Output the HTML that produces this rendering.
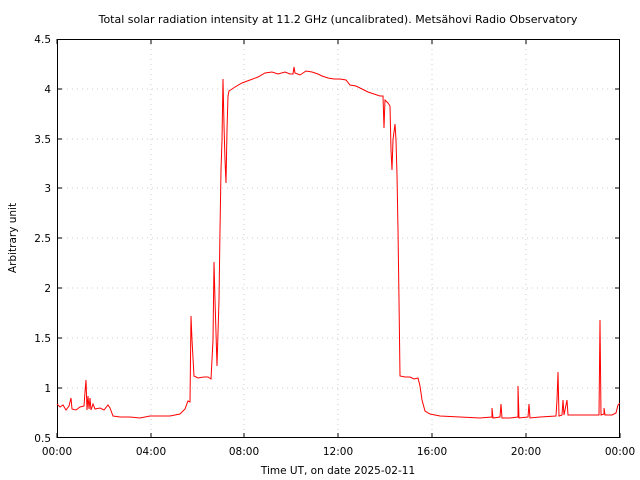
<!DOCTYPE html>
<html><head><style>body{margin:0;background:#fff}svg{display:block}text{font-family:"DejaVu Sans","Liberation Sans",sans-serif;font-size:10.5px;fill:#000}</style></head><body>
<svg width="640" height="480" viewBox="0 0 640 480">
<g stroke="#ccc" stroke-dasharray="1,4" stroke-width="1">
<line x1="151" y1="39" x2="151" y2="438"/><line x1="244" y1="39" x2="244" y2="438"/><line x1="338" y1="39" x2="338" y2="438"/><line x1="432" y1="39" x2="432" y2="438"/><line x1="526" y1="39" x2="526" y2="438"/>
<line x1="57" y1="388" x2="620" y2="388"/><line x1="57" y1="338" x2="620" y2="338"/><line x1="57" y1="288" x2="620" y2="288"/><line x1="57" y1="238" x2="620" y2="238"/><line x1="57" y1="188" x2="620" y2="188"/><line x1="57" y1="139" x2="620" y2="139"/><line x1="57" y1="89" x2="620" y2="89"/>
</g>
<rect x="57.5" y="39.5" width="562" height="398" fill="none" stroke="#000"/>
<g stroke="#000">
<path d="M57 438v-5M151 438v-5M244 438v-5M338 438v-5M432 438v-5M526 438v-5M620 438v-5M57 39v5M151 39v5M244 39v5M338 39v5M432 39v5M526 39v5M57 388h5M57 338h5M57 288h5M57 238h5M57 188h5M57 139h5M57 89h5M620 388h-5M620 338h-5M620 288h-5M620 238h-5M620 188h-5M620 139h-5M620 89h-5"/>
</g>
<g text-anchor="end"><text x="51" y="442">0.5</text><text x="51" y="392">1</text><text x="51" y="342">1.5</text><text x="51" y="292">2</text><text x="51" y="242">2.5</text><text x="51" y="192">3</text><text x="51" y="143">3.5</text><text x="51" y="93">4</text><text x="51" y="43">4.5</text></g>
<g text-anchor="middle"><text x="57" y="455">00:00</text><text x="151" y="455">04:00</text><text x="244" y="455">08:00</text><text x="338" y="455">12:00</text><text x="432" y="455">16:00</text><text x="526" y="455">20:00</text><text x="620" y="455">00:00</text>
<text x="338" y="474">Time UT, on date 2025-02-11</text>
<text x="338" y="23" style="font-size:11px">Total solar radiation intensity at 11.2 GHz (uncalibrated). Metsähovi Radio Observatory</text>
<text transform="translate(16,238) rotate(-90)">Arbitrary unit</text></g>
<polyline fill="none" stroke="#f00" stroke-width="1" points="57,404 60,407 63,405 66,410 69,406 71,398 72,409 76,410 80,407 84,406 85,392 86,380 87,410 88,396 89,409 90,398 91,410 93,404 95,409 100,408 104,410 108,405 110,408 113,416 120,417 130,417 140,418 150,416 160,416 170,416 180,414 185,409 188,401 190,402 191,316 192,340 194,376 198,378 204,377 208,377 211,379 213,340 214,262 215,300 217,366 219,300 220,230 221,170 222,140 223,79 224,125 225,160 226,183 227,130 228,96 229,91 235,87 242,83 250,80 258,77 265,73 272,72 278,74 285,72 290,74 293,74 294,67 295,73 300,75 306,71 312,72 318,74 322,76 328,78 334,79 340,79 346,80 350,85 356,86 362,89 368,92 374,94 380,96 383,96 384,128 385,100 388,103 390,106 391,150 392,170 393,140 395,124 396,140 397,175 398,230 399,300 400,376 405,377 410,377 414,379 418,378 420,386 422,400 425,411 430,414 440,416 460,417 480,418 492,417 492,408 493,418 500,417 501,404 502,418 510,418 518,417 518,386 519,418 528,417 529,404 530,418 540,417 556,416 557,400 558,372 559,416 562,415 563,400 564,415 567,400 568,415 580,415 590,415 599,415 600,320 601,415 604,414 604,408 605,415 612,415 616,413 618,405 620,403"/>
</svg>
</body></html>
